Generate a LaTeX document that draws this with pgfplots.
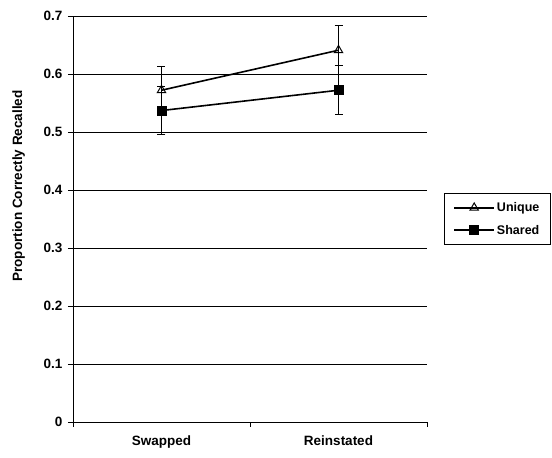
\documentclass[border=0pt]{standalone}
\usepackage{pgfplots}
\pgfplotsset{compat=1.18}
\usepackage{fontspec}
\setmainfont{Liberation Sans}
\begin{document}
\begin{tikzpicture}[x=1pt,y=1pt]
\useasboundingbox (0,0) rectangle (552,458);
\begin{axis}[
  at={(73pt,36pt)}, anchor=south west,
  scale only axis, width=354pt, height=406pt,
  xmin=0, xmax=2, ymin=0, ymax=0.7,
  axis x line*=bottom, axis y line*=left,
  axis line style={line width=0.9pt, -},
  xtick={0,1,2}, xticklabels={},
  extra x ticks={0.5,1.5},
  extra x tick labels={Swapped,Reinstated},
  extra x tick style={major tick length=0pt, tick label style={yshift=-10pt}},
  ytick={0,0.1,...,0.7},
  yticklabels={0,0.1,0.2,0.3,0.4,0.5,0.6,0.7},
  ymajorgrids, grid style={black, line width=0.8pt},
  tick align=outside, major tick length=5pt,
  tick style={black, line width=0.9pt},
  tick label style={font=\fontsize{13.5}{16}\selectfont\bfseries},
  yticklabel style={xshift=-2pt},
  ylabel={Proportion Correctly Recalled},
  ylabel style={font=\fontsize{13.5}{16}\selectfont\bfseries, yshift=12pt, xshift=33pt},
  legend style={at={(1.048,0.5)}, anchor=west, draw=black, line width=0.8pt,
    font=\fontsize{12.5}{14}\selectfont\bfseries, row sep=8pt,
    inner xsep=9pt, inner ysep=7pt},
  legend cell align=left,
  legend image code/.code={
    \draw[#1, mark repeat=2, mark phase=2] plot coordinates {(0pt,0pt) (20pt,0pt) (40pt,0pt)};},
]
\addplot[black, line width=1.6pt, mark=triangle, mark size=4.8pt,
  mark options={line width=1pt, fill=white},
  error bars/.cd, y dir=both, y explicit,
  error bar style={line width=1pt}, error mark options={rotate=90, mark size=4pt, line width=1pt}]
  coordinates {(0.5,0.572) +- (0,0.041) (1.5,0.641) +- (0,0.042)};
\addlegendentry{Unique}
\addplot[black, line width=1.6pt, mark=square*, mark size=4.5pt,
  mark options={line width=0.6pt},
  error bars/.cd, y dir=both, y explicit,
  error bar style={line width=1pt}, error mark options={rotate=90, mark size=4pt, line width=1pt}]
  coordinates {(0.5,0.537) +- (0,0.041) (1.5,0.572) +- (0,0.042)};
\addlegendentry{Shared}
\end{axis}
\end{tikzpicture}
\end{document}
